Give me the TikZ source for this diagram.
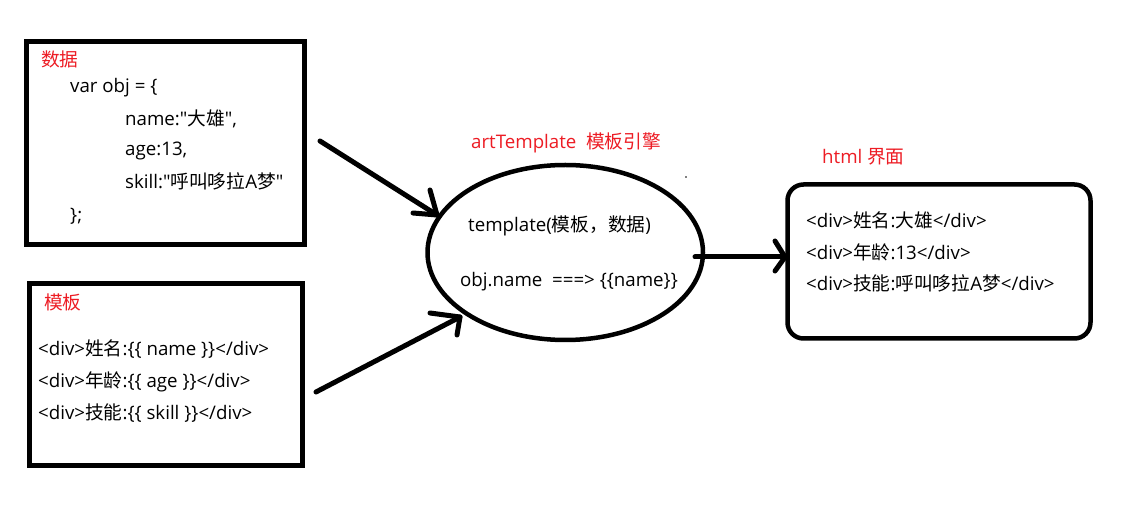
\documentclass[tikz,border=0pt]{standalone}
\usepackage{fontspec}
\newfontfamily\latinfont{Open Sans}
\newfontfamily\cjkfont{Noto Sans CJK SC}
\newcommand\zhtxt[1]{{\cjkfont #1}}
\usetikzlibrary{shapes.geometric}
\definecolor{mred}{RGB}{237,28,36}
\tikzset{
  box/.style={draw=black, line width=5pt, inner sep=0pt, fill=none},
  rbox/.style={draw=black, line width=4.5pt, inner sep=0pt, rounded corners=16pt},
  oval/.style={draw=black, line width=4.5pt, ellipse, inner sep=0pt},
  txt/.style={anchor=base west, inner sep=0pt, font=\latinfont\fontsize{18.7}{22}\selectfont},
  rtxt/.style={txt, text=mred},
  arr/.style={line width=5pt, line cap=round, line join=round},
}
\begin{document}
\begin{tikzpicture}[x=1pt,y=-1pt]
\useasboundingbox (0,0) rectangle (1141,510);
\fill[white] (0,0) rectangle (1141,510);
% boxes
\node[box, minimum width=278pt, minimum height=203pt] (data) at (165.5,143) {};
\node[box, minimum width=273pt, minimum height=181.5pt] (tpl) at (166,374.75) {};
\node[oval, minimum width=275.5pt, minimum height=175pt] (eng) at (565.25,252.5) {};
\node[rbox, minimum width=303pt, minimum height=154pt] (html) at (939,261.5) {};
% data box texts
\node[rtxt] (t1) at (41,67) {\zhtxt{数据}};
\node[txt] (t2) at (70,93) {var obj = \{};
\node[txt] (t3) at (125,126) {name:"\zhtxt{大雄}",};
\node[txt] (t4) at (125,156) {age:13,};
\node[txt] (t5) at (125,189) {skill:"\zhtxt{呼叫哆拉}A\zhtxt{梦}"};
\node[txt] (t6) at (70,222) {\};};
% template box texts
\node[rtxt] (m1) at (44,310) {\zhtxt{模板}};
\node[txt] (m2) at (38,356) {<div>\zhtxt{姓名}:\{\{ name \}\}</div>};
\node[txt] (m3) at (38,388) {<div>\zhtxt{年龄}:\{\{ age \}\}</div>};
\node[txt] (m4) at (38,420) {<div>\zhtxt{技能}:\{\{ skill \}\}</div>};
% engine
\node[rtxt] (e1) at (471,149) {artTemplate\ \ \zhtxt{模板引擎}};
\node[txt] (e2) at (468,232) {template(\zhtxt{模板，数据})};
\node[txt] (e3) at (460,287) {obj.name\ \ ===> \{\{name\}\}};
% html
\node[rtxt] (h1) at (822,164) {html \zhtxt{界面}};
\node[txt] (h2) at (806,228) {<div>\zhtxt{姓名}:\zhtxt{大雄}</div>};
\node[txt] (h3) at (806,260) {<div>\zhtxt{年龄}:13</div>};
\node[txt] (h4) at (806,291) {<div>\zhtxt{技能}:\zhtxt{呼叫哆拉}A\zhtxt{梦}</div>};
% arrows
\coordinate (a1s) at (320,141);
\coordinate (a1t) at (437,215);
\coordinate (a1h1) at (430,190);
\coordinate (a1h2) at (413,213);
\draw[arr] (a1s) -- (a1t);
\draw[arr] (a1h1) -- (a1t) -- (a1h2);
\coordinate (a2s) at (316,392);
\coordinate (a2t) at (460,317);
\coordinate (a2h1) at (430,313);
\coordinate (a2h2) at (457,335);
\draw[arr] (a2s) -- (a2t);
\draw[arr] (a2h1) -- (a2t) -- (a2h2);
\coordinate (a3s) at (695,257);
\coordinate (a3t) at (785,257);
\coordinate (a3h1) at (775,241);
\coordinate (a3h2) at (775,271);
\draw[arr] (a3s) -- (a3t);
\draw[arr] (a3h1) -- (a3t) -- (a3h2);
\fill[black] (686,177) circle (0.8pt);
\end{tikzpicture}
\end{document}
